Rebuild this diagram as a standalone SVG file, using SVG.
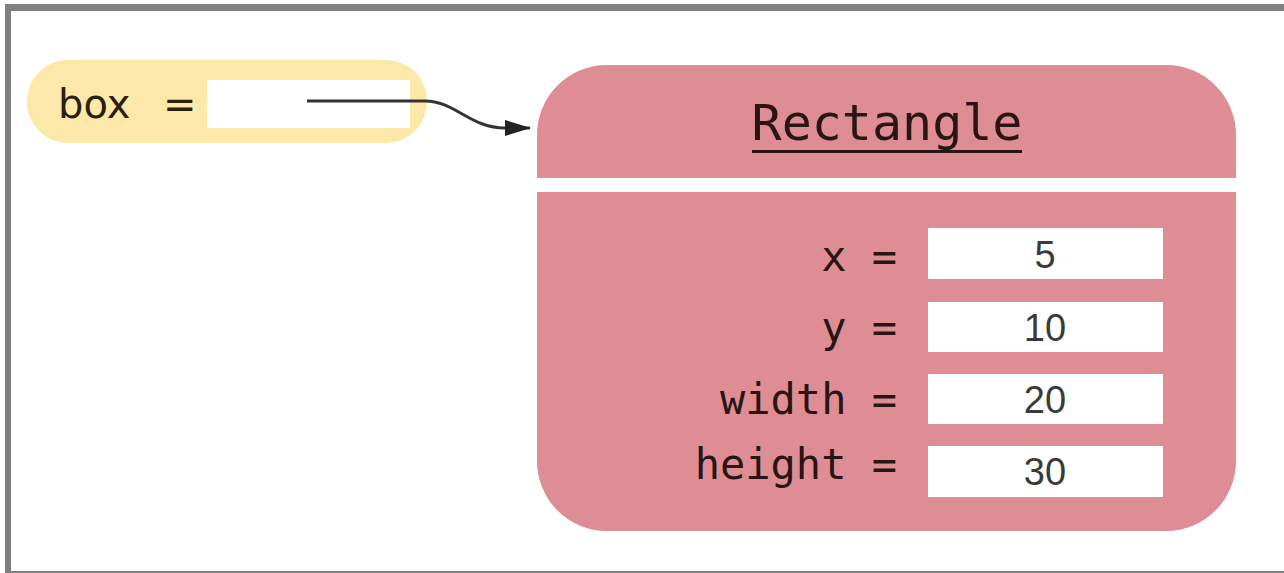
<svg xmlns="http://www.w3.org/2000/svg" width="1284" height="573" viewBox="0 0 1284 573">
<style>
.frame{fill:#808080}
.mono{font-family:"DejaVu Sans Mono","Liberation Mono",monospace;fill:#2a1414}
.lbl{font-size:42px;text-anchor:end}
.val{font-family:"Liberation Sans",Arial,sans-serif;font-size:38px;fill:#3a3a3a;text-anchor:middle}
.vbox{fill:#ffffff}
.conn{fill:none;stroke:#333333;stroke-width:3}
</style>
<defs>
<marker id="ah" markerWidth="26" markerHeight="16" refX="25" refY="8" orient="auto" markerUnits="userSpaceOnUse">
<path d="M0,0 L26,8 L0,16 Z" fill="#222222"/>
</marker>
</defs>
<rect width="1284" height="573" fill="#ffffff"/>
<g id="frame">
<rect class="frame" x="5" y="4" width="1279" height="7"/>
<rect class="frame" x="5" y="4" width="6" height="569"/>
<rect class="frame" x="5" y="571" width="1279" height="2"/>
</g>
<g id="box-var">
<rect x="27" y="60" width="400" height="83" rx="41" fill="#fce8a8"/>
<rect class="vbox" x="207" y="80" width="203" height="48"/>
<text x="58" y="118" font-family="DejaVu Sans,sans-serif" font-size="40" fill="#2a2010">box</text>
<text x="163" y="118" font-family="DejaVu Sans,sans-serif" font-size="40" fill="#2a2010">=</text>
</g>
<g id="rectangle-obj">
<rect x="537" y="65" width="699" height="466" rx="70" fill="#dd8d93"/>
<rect x="537" y="178" width="699" height="14" fill="#ffffff"/>
<text class="mono" x="887" y="140" font-size="50" text-anchor="middle">Rectangle</text>
<rect x="752" y="150" width="270" height="3" fill="#2a1414"/>
<text class="mono lbl" x="897" y="271">x =</text>
<text class="mono lbl" x="897" y="342">y =</text>
<text class="mono lbl" x="897" y="414">width =</text>
<text class="mono lbl" x="897" y="479">height =</text>
<rect class="vbox" x="928" y="228" width="235" height="51"/>
<rect class="vbox" x="928" y="302" width="235" height="50"/>
<rect class="vbox" x="928" y="374" width="235" height="50"/>
<rect class="vbox" x="928" y="446" width="235" height="51"/>
<text class="val" x="1045" y="268">5</text>
<text class="val" x="1045" y="341">10</text>
<text class="val" x="1045" y="413">20</text>
<text class="val" x="1045" y="485">30</text>
</g>
<g id="connectors">
<path class="conn" d="M307,101 L425,101 C455,101 470,128 505,128 L530,128" marker-end="url(#ah)"/>
</g>
</svg>
